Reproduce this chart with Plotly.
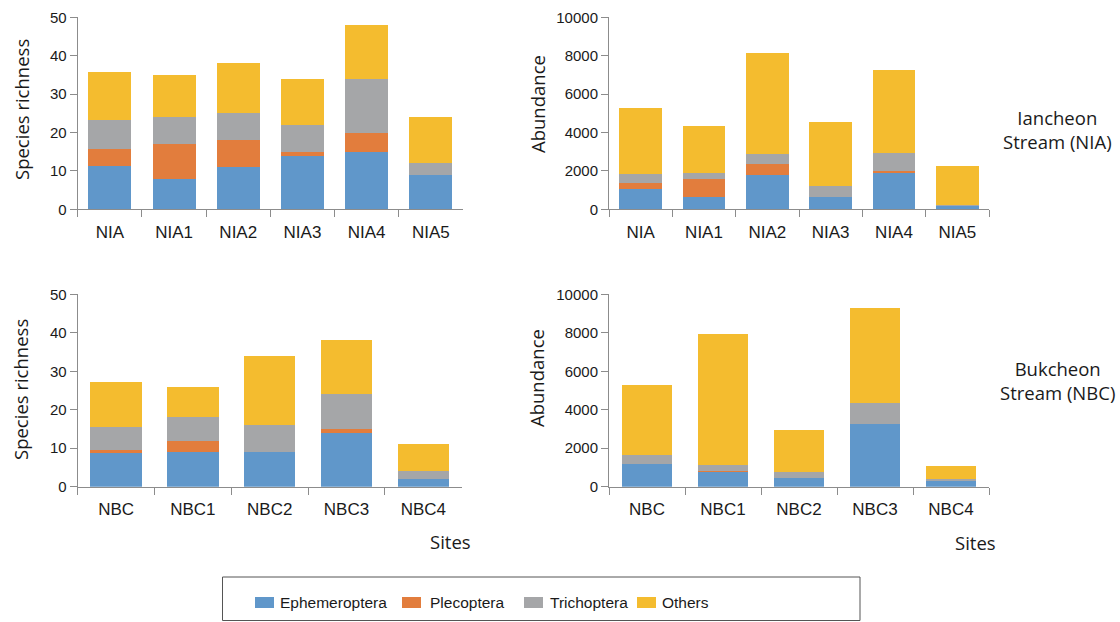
import plotly.graph_objects as go

# ---------------- data ----------------
sites_nia = ["NIA", "NIA1", "NIA2", "NIA3", "NIA4", "NIA5"]
sites_nbc = ["NBC", "NBC1", "NBC2", "NBC3", "NBC4"]
groups = ["Ephemeroptera", "Plecoptera", "Trichoptera", "Others"]

rich_nia_eph = [11.4, 8, 11, 14, 15, 9]
rich_nia_ple = [4.3, 9, 7, 1, 5, 0]
rich_nia_tri = [7.6, 7, 7, 7, 14, 3]
rich_nia_oth = [12.5, 11, 13, 12, 14, 12]

abun_nia_eph = [1040, 630, 1790, 650, 1880, 190]
abun_nia_ple = [310, 950, 560, 0, 100, 0]
abun_nia_tri = [470, 300, 520, 540, 970, 50]
abun_nia_oth = [3480, 2460, 5260, 3350, 4290, 2000]

rich_nbc_eph = [8.7, 9, 9, 14, 2]
rich_nbc_ple = [0.8, 3, 0, 1, 0]
rich_nbc_tri = [6.0, 6, 7, 9, 2]
rich_nbc_oth = [11.8, 8, 18, 14, 7]

abun_nbc_eph = [1200, 750, 470, 3260, 330]
abun_nbc_ple = [0, 80, 0, 0, 0]
abun_nbc_tri = [450, 280, 280, 1080, 50]
abun_nbc_oth = [3660, 6820, 2200, 4950, 700]

colors = ["#6097CA", "#E27D3D", "#A5A6A8", "#F4BC2F"]

W, H = 1120, 622


def px(x):
    return x / W


def py(y):
    return 1 - y / H


fig = go.Figure()

panels = [
    (sites_nia, [rich_nia_eph, rich_nia_ple, rich_nia_tri, rich_nia_oth], "x", "y"),
    (sites_nia, [abun_nia_eph, abun_nia_ple, abun_nia_tri, abun_nia_oth], "x2", "y2"),
    (sites_nbc, [rich_nbc_eph, rich_nbc_ple, rich_nbc_tri, rich_nbc_oth], "x3", "y3"),
    (sites_nbc, [abun_nbc_eph, abun_nbc_ple, abun_nbc_tri, abun_nbc_oth], "x4", "y4"),
]

for cats, series, xa, ya in panels:
    for name, vals, col in zip(groups, series, colors):
        fig.add_trace(go.Bar(
            x=cats, y=vals, name=name, xaxis=xa, yaxis=ya,
            marker=dict(color=col, line=dict(width=0)),
            showlegend=False, legendgroup=name,
        ))

axis_col = "#8C8C8C"
tickfont = dict(family="Liberation Sans, Arial, sans-serif", size=15, color="#1A1A1A")
xtickfont = dict(family="Liberation Sans, Arial, sans-serif", size=17, color="#1A1A1A")

common_x = dict(type="category", showline=True, linecolor=axis_col, linewidth=1,
                ticks="outside", tickson="boundaries", ticklen=7, tickcolor=axis_col,
                showgrid=False, tickfont=xtickfont, zeroline=False,
                ticklabelstandoff=7)
common_y = dict(showline=True, linecolor=axis_col, linewidth=1, ticks="outside",
                ticklen=7, tickcolor=axis_col, showgrid=False, tickfont=tickfont,
                zeroline=False, tickformat="d")

dom_x_left = [px(77.7), px(463)]
dom_x_left_b = [px(77.7), px(461.7)]
dom_x_right = [px(609), px(989)]
dom_y_top = [py(209.3), py(17.3)]
dom_y_bot = [py(486.7), py(294.3)]

fig.update_layout(
    width=W, height=H,
    margin=dict(l=0, r=0, t=0, b=0, autoexpand=False),
    paper_bgcolor="white", plot_bgcolor="white",
    barmode="stack", bargap=0.33,
    xaxis=dict(domain=dom_x_left, anchor="y", **common_x),
    yaxis=dict(domain=dom_y_top, anchor="x", range=[0, 50], dtick=10, **common_y),
    xaxis2=dict(domain=dom_x_right, anchor="y2", **common_x),
    yaxis2=dict(domain=dom_y_top, anchor="x2", range=[0, 10000], dtick=2000, **common_y),
    xaxis3=dict(domain=dom_x_left_b, anchor="y3", **common_x),
    yaxis3=dict(domain=dom_y_bot, anchor="x3", range=[0, 50], dtick=10, **common_y),
    xaxis4=dict(domain=dom_x_right, anchor="y4", **common_x),
    yaxis4=dict(domain=dom_y_bot, anchor="x4", range=[0, 10000], dtick=2000, **common_y),
    showlegend=False,
)

title_font = dict(family="Open Sans, Noto Sans, sans-serif", size=18.5, color="#1A1A1A")

annots = [
    dict(text="Species richness", x=px(21), y=py(110), textangle=-90),
    dict(text="Species richness", x=px(21), y=py(390), textangle=-90),
    dict(text="Abundance", x=px(537), y=py(104), textangle=-90),
    dict(text="Abundance", x=px(536), y=py(378), textangle=-90),
    dict(text="Sites", x=px(450), y=py(541), textangle=0),
    dict(text="Sites", x=px(975), y=py(542), textangle=0),
    dict(text="Iancheon<br>Stream (NIA)", x=px(1057), y=py(129), textangle=0),
    dict(text="Bukcheon<br>Stream (NBC)", x=px(1057), y=py(380), textangle=0),
]
for a in annots:
    fig.add_annotation(xref="paper", yref="paper", showarrow=False,
                       xanchor="center", yanchor="middle", font=title_font, **a)

# legend box
fig.add_shape(type="rect", xref="paper", yref="paper",
              x0=px(222.5), x1=px(860), y0=py(620.5), y1=py(577),
              line=dict(color="#555555", width=1), fillcolor="rgba(0,0,0,0)")

# legend entries (swatch left edge, text left edge)
legend_pos = [(255, 278), (402, 428), (524, 548), (637, 660)]
legend_font = dict(family="Liberation Sans, Arial, sans-serif", size=15.5, color="#1A1A1A")
for name, col, (sx, tx) in zip(groups, colors, legend_pos):
    fig.add_shape(type="rect", xref="paper", yref="paper",
                  x0=px(sx), x1=px(sx + 19), y0=py(608), y1=py(597),
                  line=dict(width=0), fillcolor=col)
    fig.add_annotation(xref="paper", yref="paper", showarrow=False, text=name,
                       x=px(tx), y=py(602.5), xanchor="left", yanchor="middle",
                       font=legend_font)

fig.write_html("out.html")
